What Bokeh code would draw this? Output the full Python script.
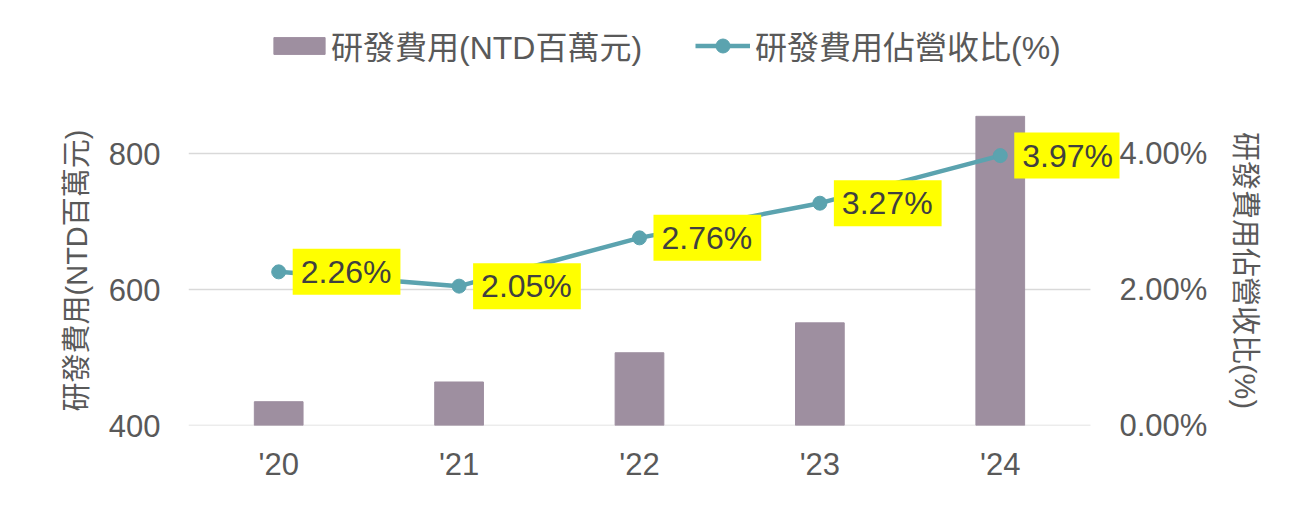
from bokeh.plotting import figure
from bokeh.layouts import column
from bokeh.models import (Range1d, LinearAxis, FixedTicker, PrintfTickFormatter,
                          ColumnDataSource, Legend, LegendItem)
from bokeh.core.properties import value
from bokeh.embed import file_html
from bokeh.resources import INLINE

years = ["'20", "'21", "'22", "'23", "'24"]
rd_expense = [435, 464, 507, 551, 855]          # 研發費用 (NTD百萬元)
rd_ratio = [2.26, 2.05, 2.76, 3.27, 3.97]       # 研發費用佔營收比 (%)
ratio_labels = ["2.26%", "2.05%", "2.76%", "3.27%", "3.97%"]
left_ticks = [400, 600, 800]
right_ticks = [0, 2, 4]
bar_name = "研發費用(NTD百萬元)"
line_name = "研發費用佔營收比(%)"

FONT = "'Liberation Sans', 'Noto Sans CJK TC'"
BAR_COLOR = "#9E8FA0"
LINE_COLOR = "#5BA3AF"
TICK_COLOR = "#595959"

n = len(years)
xpos = [i + 0.5 for i in range(n)]
src = ColumnDataSource(dict(x=xpos, y=rd_expense, r=rd_ratio, lab=ratio_labels))

# ---------- legend strip: proxy renderers with no drawable points ----------
proxy = ColumnDataSource(dict(x=[float("nan")], y=[float("nan")]))
leg = figure(width=1285, height=115, x_range=Range1d(0, 1), y_range=Range1d(0, 1),
             output_backend="svg", toolbar_location=None,
             x_axis_location=None, y_axis_location=None,
             min_border=0, outline_line_color=None)
leg.grid.grid_line_color = None
lb = leg.vbar(x="x", top="y", width=0.27, source=proxy,
              fill_color=BAR_COLOR, line_color=BAR_COLOR)
ll = leg.line(x="x", y="y", source=proxy, line_color=LINE_COLOR, line_width=4.5)
lp = leg.scatter(x="x", y="y", source=proxy, size=14,
                 fill_color=LINE_COLOR, line_color=LINE_COLOR)

common = dict(orientation="horizontal", padding=0, margin=0, border_line_color=None,
              background_fill_alpha=0, label_text_font=FONT,
              label_text_font_size="32px", label_text_color=TICK_COLOR)
# the strip's frame is aligned with the chart frame (left edge at 188 px)
leg1 = Legend(items=[LegendItem(label=bar_name, renderers=[lb])],
              location=(79, 47), glyph_width=64, glyph_height=21,
              label_standoff=0, **common)
leg2 = Legend(items=[LegendItem(label=line_name, renderers=[ll, lp])],
              location=(507, 47), glyph_width=55, glyph_height=35,
              label_standoff=5, **common)
leg.add_layout(leg1, "center")
leg.add_layout(leg2, "center")

# ---------- main chart ----------
p = figure(width=1285, height=383, x_range=Range1d(0, 5.161),
           y_range=Range1d(400, 856), output_backend="svg", toolbar_location=None,
           min_border_left=188, min_border_right=166, min_border_top=0,
           min_border_bottom=73)
p.extra_y_ranges = {"pct": Range1d(0, 4.56)}

# horizontal gridlines over the category span only
p.segment(x0=0, x1=n, y0=left_ticks, y1=left_ticks, line_color="#D9D9D9",
          line_width=1.5, level="underlay")

bars = p.vbar(x="x", top="y", bottom=400, width=0.27, source=src,
              fill_color=BAR_COLOR, line_color=BAR_COLOR)
ln = p.line(x="x", y="r", source=src, y_range_name="pct", line_color=LINE_COLOR,
            line_width=4.5)
pts = p.scatter(x="x", y="r", source=src, y_range_name="pct", size=14,
                fill_color=LINE_COLOR, line_color=LINE_COLOR)

p.text(x="x", y="r", text="lab", source=src, y_range_name="pct",
       x_offset=14, text_align="left", text_baseline="middle",
       text_font=value(FONT), text_font_size="32px", text_color="#404040",
       background_fill_color="#FFFF00",
       padding={"left": 8, "right": 9, "top": 5, "bottom": 5})

# axes
p.xaxis.ticker = FixedTicker(ticks=xpos)
p.xaxis.major_label_overrides = {x: y for x, y in zip(xpos, years)}
p.yaxis.ticker = FixedTicker(ticks=left_ticks)
p.yaxis.axis_label = bar_name
right = LinearAxis(y_range_name="pct", ticker=FixedTicker(ticks=right_ticks),
                   formatter=PrintfTickFormatter(format="%.2f%%"),
                   axis_label=line_name)
p.add_layout(right, "right")

for ax in [p.xaxis[0], p.yaxis[0], right]:
    ax.axis_line_color = None
    ax.major_tick_line_color = None
    ax.minor_tick_line_color = None
    ax.major_tick_out = 0
    ax.major_tick_in = 0
    ax.minor_tick_out = 0
    ax.minor_tick_in = 0
    ax.major_label_text_font = FONT
    ax.major_label_text_font_size = "31px"
    ax.major_label_text_color = TICK_COLOR
    ax.axis_label_text_font = FONT
    ax.axis_label_text_font_size = "29px"
    ax.axis_label_text_font_style = "normal"
    ax.axis_label_text_color = TICK_COLOR

p.xaxis.major_label_standoff = 21
p.yaxis.major_label_standoff = 28
p.yaxis.axis_label_standoff = 13
right.major_label_standoff = 0
right.axis_label_standoff = 19

p.xgrid.grid_line_color = None
p.ygrid.grid_line_color = None
p.outline_line_color = None

layout = column(leg, p, spacing=0)
open("out.html", "w").write(file_html(layout, INLINE))
